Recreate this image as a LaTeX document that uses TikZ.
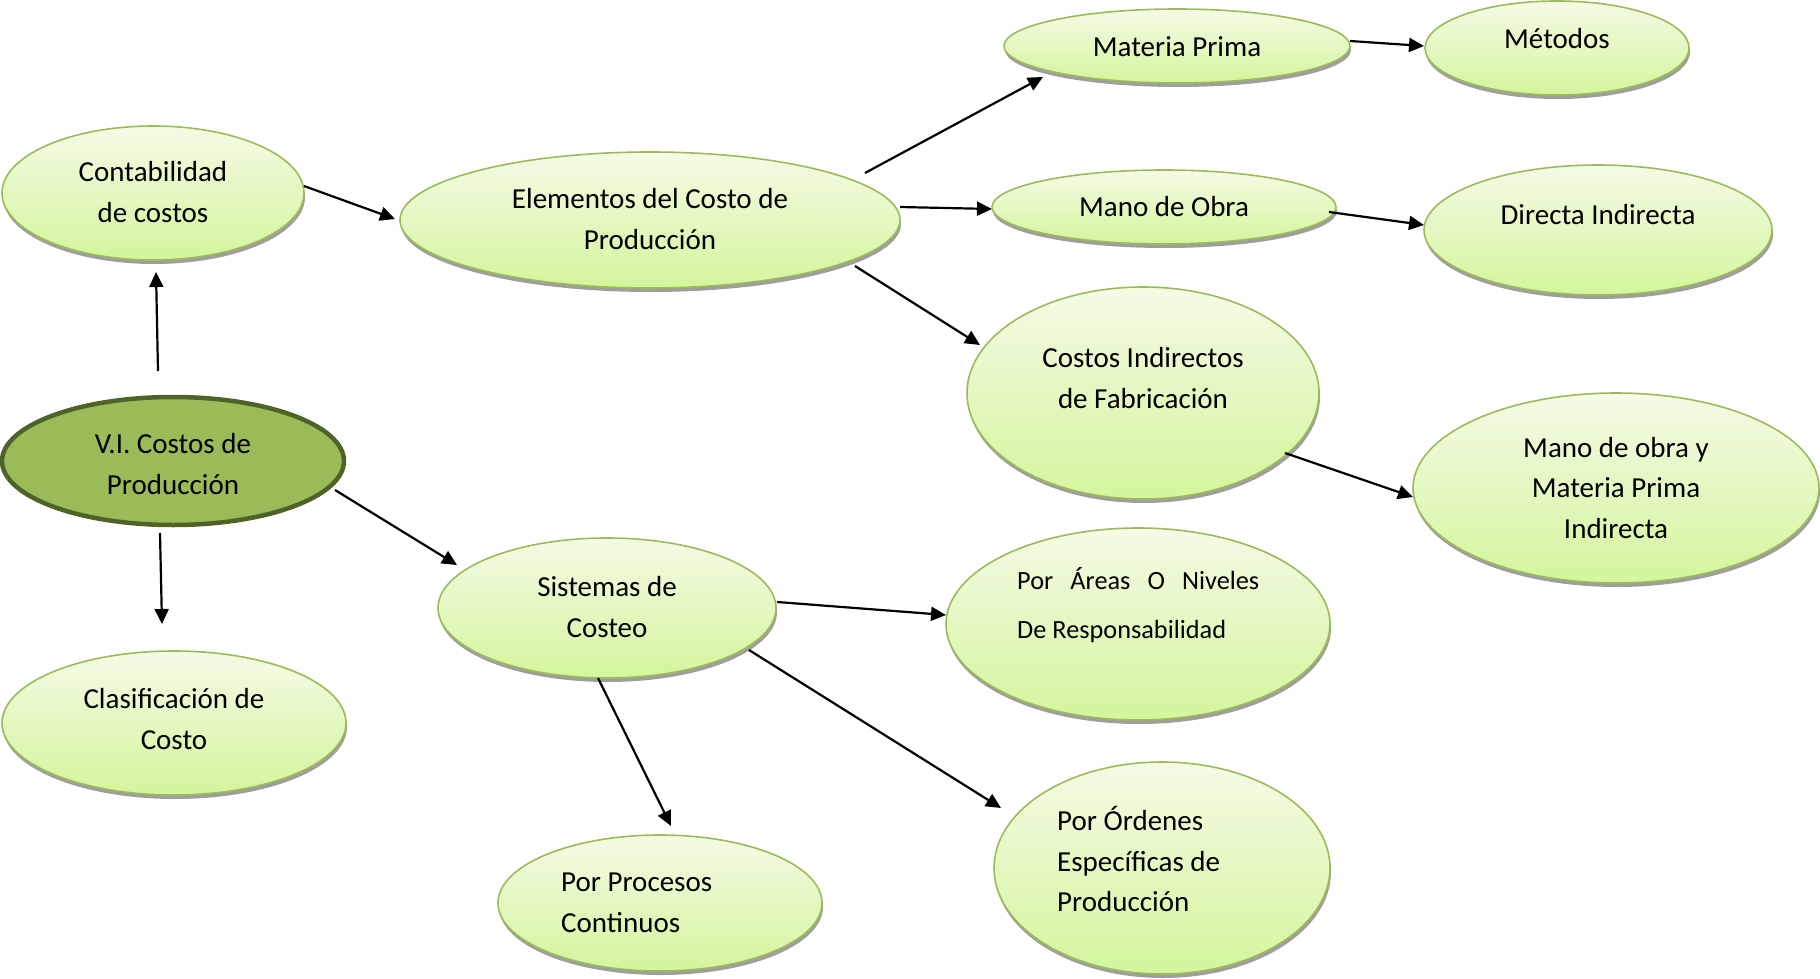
\documentclass[tikz,border=0pt]{standalone}
\usepackage{fontspec}
\setmainfont{Carlito}
\usetikzlibrary{shapes.geometric,arrows.meta,shadows}
\definecolor{bord}{HTML}{9BBB59}
\definecolor{gtop}{HTML}{F4FBE6}
\definecolor{gbot}{HTML}{D4F59C}
\definecolor{darkfill}{HTML}{9BBB59}
\definecolor{darkbord}{HTML}{4F6228}
\begin{document}
\begin{tikzpicture}[x=1pt,y=-1pt,
  bub/.style={ellipse, draw=bord, line width=1.6pt, top color=gtop, bottom color=gbot, inner sep=0pt,
    drop shadow={shadow xshift=1pt, shadow yshift=-4pt, fill=black!38, opacity=1}},
  txt/.style={font=\fontsize{29}{40.6}\selectfont, align=center, inner sep=0pt},
  arr/.style={-{Triangle[length=15pt,width=14pt]}, line width=2.2pt}]
\useasboundingbox (0,0) rectangle (1820,979);

% ellipses
\node[bub, minimum width=302pt, minimum height=134pt] (cont) at (153,193) {};
\node[bub, minimum width=500pt, minimum height=136pt] (elem) at (650,220) {};
\node[bub, minimum width=346pt, minimum height=74pt] (mp) at (1177,46) {};
\node[bub, minimum width=264pt, minimum height=94pt] (met) at (1557,48) {};
\node[bub, minimum width=344pt, minimum height=74pt] (mo) at (1164,207) {};
\node[bub, minimum width=348pt, minimum height=130pt] (di) at (1598,230) {};
\node[bub, minimum width=352pt, minimum height=212pt] (cif) at (1143,393) {};
\node[bub, minimum width=406pt, minimum height=190pt] (momp) at (1616,488) {};
\node[ellipse, draw=darkbord, line width=4.5pt, fill=darkfill, inner sep=0pt,
      minimum width=342pt, minimum height=128pt] (vi) at (173,461) {};
\node[bub, minimum width=338pt, minimum height=140pt] (sis) at (607,608) {};
\node[bub, minimum width=384pt, minimum height=192pt] (area) at (1138,624) {};
\node[bub, minimum width=344pt, minimum height=144pt] (clas) at (174,723) {};
\node[bub, minimum width=324pt, minimum height=136pt] (proc) at (660,903) {};
\node[bub, minimum width=336pt, minimum height=212pt] (ord) at (1162,868) {};

% texts
\node[txt] (cont-t) at (153,192) {Contabilidad\\de costos};
\node[txt] (elem-t) at (650,219) {Elementos del Costo de\\Producción};
\node[txt] (mp-t) at (1177,47) {Materia Prima};
\node[txt] (met-t) at (1557,39) {Métodos};
\node[txt] (mo-t) at (1164,207) {Mano de Obra};
\node[txt] (di-t) at (1598,215) {Directa Indirecta};
\node[txt] (cif-t) at (1143,378) {Costos Indirectos\\de Fabricación};
\node[txt] (momp-t) at (1616,488) {Mano de obra y\\Materia Prima\\Indirecta};
\node[txt] (vi-t) at (173,464) {V.I. Costos de\\Producción};
\node[txt] (sis-t) at (607,607) {Sistemas de\\Costeo};
\node[txt, font=\fontsize{26.3}{48.7}\selectfont, align=left, anchor=west] (area-t) at (1017,605)
  {\makebox[242pt][s]{Por Áreas O Niveles}\\De Responsabilidad};
\node[txt] (clas-t) at (174,719) {Clasificación de\\Costo};
\node[txt, align=left, anchor=west] (proc-t) at (561,903) {Por Procesos\\Continuos};
\node[txt, align=left, anchor=west] (ord-t) at (1057,859) {Por Órdenes\\Específicas de\\Producción};

% arrow end points
\coordinate (a1s) at (158,371); \coordinate (a1e) at (156,272);
\coordinate (a2s) at (304,186); \coordinate (a2e) at (395,219);
\coordinate (a3s) at (865,173); \coordinate (a3e) at (1043,77);
\coordinate (a4s) at (900,207); \coordinate (a4e) at (992,209);
\coordinate (a5s) at (855,266); \coordinate (a5e) at (980,345);
\coordinate (a6s) at (1350,41); \coordinate (a6e) at (1424,46);
\coordinate (a7s) at (1329,212); \coordinate (a7e) at (1424,225);
\coordinate (a8s) at (1285,453); \coordinate (a8e) at (1413,497);
\coordinate (a9s) at (335,490); \coordinate (a9e) at (457,565);
\coordinate (a10s) at (160,533); \coordinate (a10e) at (162,624);
\coordinate (a11s) at (777,602); \coordinate (a11e) at (946,615);
\coordinate (a12s) at (749,650); \coordinate (a12e) at (1001,808);
\coordinate (a13s) at (598,678); \coordinate (a13e) at (671,826);

\draw[arr] (a1s) -- (a1e);
\draw[arr] (a2s) -- (a2e);
\draw[arr] (a3s) -- (a3e);
\draw[arr] (a4s) -- (a4e);
\draw[arr] (a5s) -- (a5e);
\draw[arr] (a6s) -- (a6e);
\draw[arr] (a7s) -- (a7e);
\draw[arr] (a8s) -- (a8e);
\draw[arr] (a9s) -- (a9e);
\draw[arr] (a10s) -- (a10e);
\draw[arr] (a11s) -- (a11e);
\draw[arr] (a12s) -- (a12e);
\draw[arr] (a13s) -- (a13e);
\end{tikzpicture}
\end{document}
